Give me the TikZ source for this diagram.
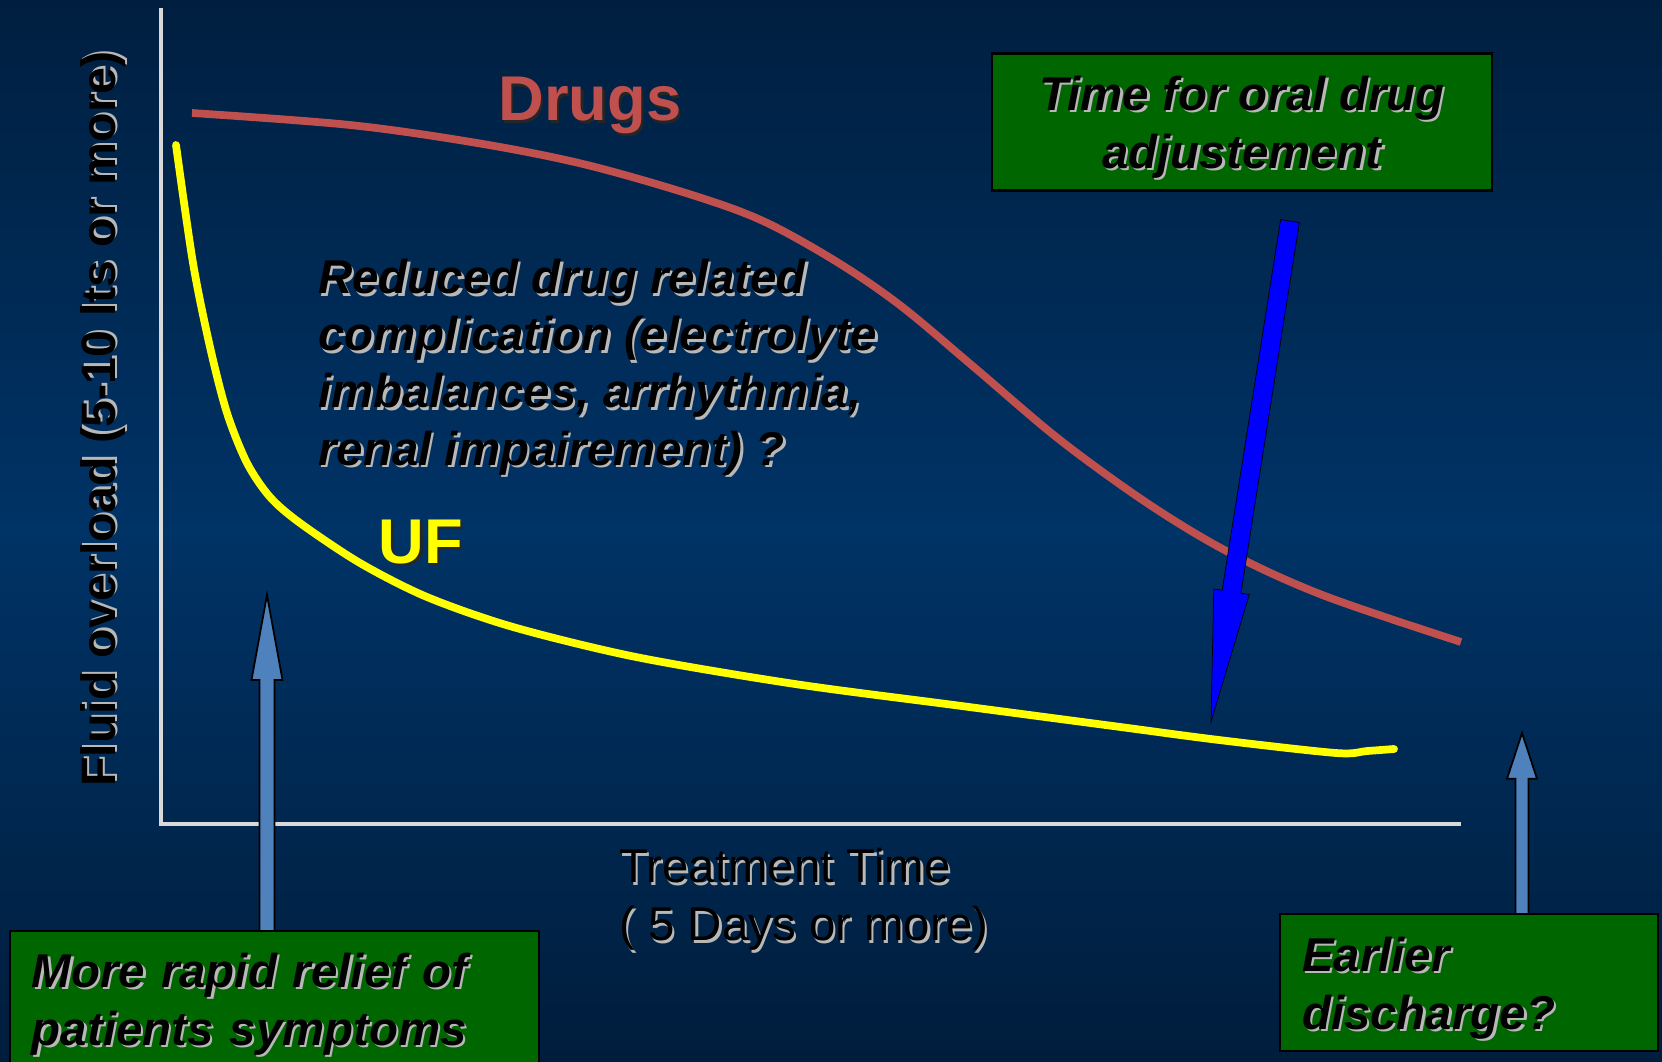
\documentclass[tikz,border=0pt]{standalone}
\usepackage{fontspec}
\setmainfont{Liberation Sans}
\usetikzlibrary{positioning}
\usetikzlibrary{calc}
\definecolor{bgtop}{RGB}{0,31,64}
\definecolor{bgmid}{RGB}{0,51,102}
\definecolor{bgbot}{RGB}{0,29,60}
\definecolor{drugred}{RGB}{192,80,77}
\definecolor{ufyellow}{RGB}{255,255,0}
\definecolor{boxgreen}{RGB}{0,102,0}
\definecolor{steelarrow}{RGB}{79,129,189}
\definecolor{adjblue}{RGB}{0,0,255}
\definecolor{axisgray}{RGB}{217,217,217}
\colorlet{lightshadow}{white!72!black}
\colorlet{darkshadow}{black!85}
\tikzstyle{notebox}=[draw=black,line width=1.2pt,fill=boxgreen,inner xsep=0.44cm,inner ysep=0.36cm,outer sep=0pt,
                     font=\bfseries\itshape\fontsize{27}{33}\selectfont]
\tikzstyle{mycurve}=[#1,line width=4.4pt]
\tikzstyle{axisline}=[axisgray,line width=2.8pt]
\tikzstyle{fatarrow}=[fill=#1,draw=black,line width=1pt,line join=miter]
% text with a shadow under it
\newcommand{\shd}[2][lightshadow]{\leavevmode\rlap{\kern1.3pt\raisebox{-1.3pt}{\color{#1}#2}}#2}
% taller first line, pushes the box text down a little
\newcommand{\topline}{\rule{0pt}{27pt}}
% block arrow: style, tail, tip, head part, half shaft, half head
\newcommand{\blockarrow}[6]{%
  \coordinate (hb) at ($(#3)!#4!(#2)$);
  \draw[#1] ($(#2)!#5!90:(#3)$) -- ($(hb)!#5!90:(#3)$) -- ($(hb)!#6!90:(#3)$) -- (#3)
    -- ($(hb)!#6!-90:(#3)$) -- ($(hb)!#5!-90:(#3)$) -- ($(#2)!#5!-90:(#3)$) -- cycle;}

\begin{document}
\begin{tikzpicture}[x=0.02cm,y=-0.02cm]
  \useasboundingbox (0,0) rectangle (1662,1061);
  \clip (0,0) rectangle (1662,1061);
  \shade[top color=bgtop,bottom color=bgbot,middle color=bgmid] (0,0) rectangle (1662,1061);

  % axes
  \coordinate (origin) at (161,824);
  \coordinate (ytop) at (161,8);
  \coordinate (xend) at (1461,824);
  \draw[axisline] (ytop) -- (origin) -- (xend);

  % drugs curve
  \draw[mycurve=drugred] plot[smooth,tension=0.55] coordinates {
    (192,113) (350,125) (477,143) (583,164) (689,194) (763,221) (837,262)
    (901,306) (975,368) (1060,440) (1150,505) (1232,554) (1325,596) (1461,642)};

  % UF curve
  \draw[mycurve=ufyellow,line cap=round] plot[smooth,tension=0.5] coordinates {
    (176,145) (193,263) (210,347) (227,413) (247,463) (270,497) (300,523)
    (360,563) (427,597) (513,627) (636,657) (795,684) (954,705) (1113,726)
    (1219,740) (1336,753) (1367,751) (1394,749)};

  % labels
  \node[font=\bfseries\fontsize{36}{43}\selectfont,text=drugred] (drugs) at (590,107)
    {\shd[darkshadow]{Drugs}};
  \node[font=\bfseries\fontsize{36}{43}\selectfont,text=ufyellow] (uf) at (421,543)
    {\shd[darkshadow]{UF}};
  \node[font=\bfseries\fontsize{27.5}{33}\selectfont,rotate=90] (ylabel) at (104,419)
    {\shd{Fluid overload (5-10 lts or more)}};
  \node[font=\fontsize{27}{33}\selectfont,align=left,anchor=north west,inner sep=0pt] (xlabel) at (619,848)
    {\shd{Treatment Time}\\ \shd{( 5 Days or more)}};
  \node[font=\bfseries\itshape\fontsize{27}{32.5}\selectfont,align=left,anchor=north west,inner sep=0pt] (reduced) at (318,259) {
    \shd{Reduced drug related}\\
    \shd{complication (electrolyte}\\
    \shd{imbalances, arrhythmia,}\\
    \shd{renal impairement) ?}
  };

  % boxes
  \node[notebox,inner ysep=0.1cm,minimum width=10cm,minimum height=2.74cm,align=center] (oral) at (1242,122) {
    \topline\shd{Time for oral drug}\\
    \shd{adjustement}
  };
  \node[notebox,anchor=north west,inner ysep=0.44cm,minimum width=10.56cm,text width=9.7cm,align=left] (relief) at (10,931) {
    \shd{More rapid relief of}\\
    \shd{patients symptoms}
  };
  \node[notebox,anchor=north west,inner ysep=0.1cm,minimum width=7.56cm,minimum height=2.74cm,text width=6.68cm,align=left] (discharge) at (1280,914) {
    \topline\shd{Earlier}\\
    \shd{discharge?}
  };

  % arrows
  \coordinate (relieftail) at (relief.north -| 267,0);
  \coordinate (relieftip) at (267,595);
  \blockarrow{fatarrow=steelarrow}{relieftail}{relieftip}{0.253}{0.15cm}{0.31cm}
  \coordinate (dischargetail) at (discharge.north -| 1522,0);
  \coordinate (dischargetip) at (1522,733);
  \blockarrow{fatarrow=steelarrow}{dischargetail}{dischargetip}{0.253}{0.13cm}{0.30cm}
  \coordinate (oraltail) at (1290,221);
  \coordinate (oraltip) at (1211,722);
  \blockarrow{fill=adjblue}{oraltail}{oraltip}{0.26}{0.19cm}{0.36cm}
\end{tikzpicture}
\end{document}
